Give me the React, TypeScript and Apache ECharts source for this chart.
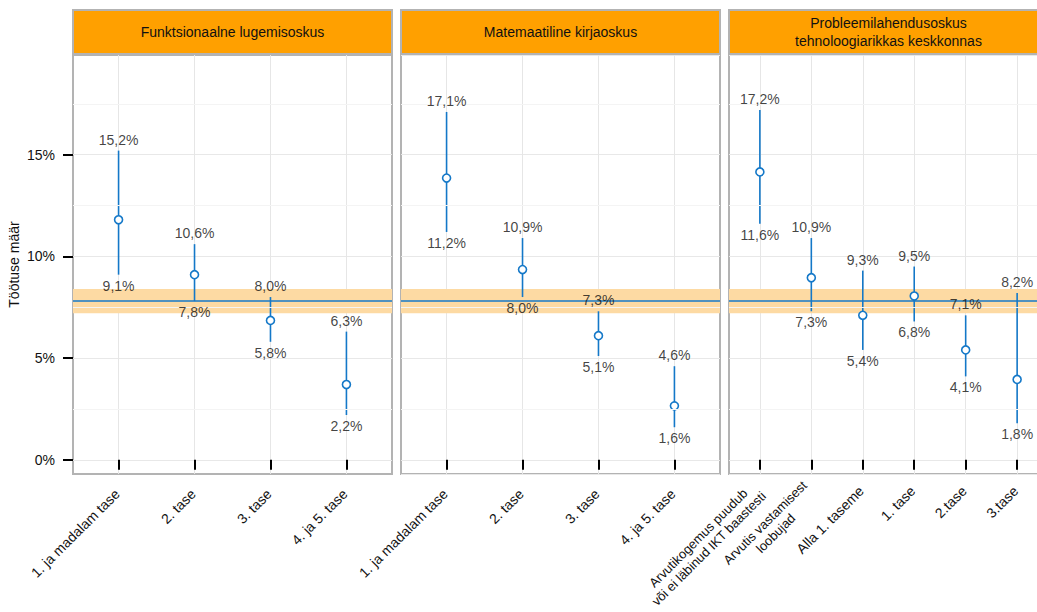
import React, { useEffect, useRef } from 'react';
import * as echarts from 'echarts';

const panelTitles = [
  'Funktsionaalne lugemisoskus',
  'Matemaatiline kirjaoskus',
  'Probleemilahendusoskus\ntehnoloogiarikkas keskkonnas',
];

const cats1 = ['1. ja madalam tase', '2. tase', '3. tase', '4. ja 5. tase'];
const cats2 = ['1. ja madalam tase', '2. tase', '3. tase', '4. ja 5. tase'];
const cats3 = [
  'Arvutikogemus puudub\nvõi ei läbinud IKT baastesti',
  'Arvutis vastamisest\nloobujad',
  'Alla 1. taseme',
  '1. tase',
  '2.tase',
  '3.tase',
];

const est1 = [11.8, 9.1, 6.85, 3.7];
const low1 = [9.1, 7.8, 5.8, 2.2];
const high1 = [15.2, 10.6, 8.0, 6.3];

const est2 = [13.85, 9.35, 6.1, 2.65];
const low2 = [11.2, 8.0, 5.1, 1.6];
const high2 = [17.1, 10.9, 7.3, 4.6];

const est3 = [14.15, 8.95, 7.1, 8.05, 5.4, 3.95];
const low3 = [11.6, 7.3, 5.4, 6.8, 4.1, 1.8];
const high3 = [17.2, 10.9, 9.3, 9.5, 7.1, 8.2];

const refValue = 7.8;
const bandLow = 7.2;
const bandHigh = 8.4;

const yTicks = [0, 5, 10, 15];
const yMinorLines = [2.5, 7.5, 12.5, 17.5];

const panels = [
  { cats: cats1, est: est1, low: low1, high: high1 },
  { cats: cats2, est: est2, low: low2, high: high2 },
  { cats: cats3, est: est3, low: low3, high: high3 },
];

const FONT = 'Liberation Sans, Arial, Helvetica, sans-serif';
const BLUE = '#1478C8';
const BORDER = '#B3B3B3';
const TEXT = '#111';

const pct = (v: number) => v.toFixed(1).replace('.', ',') + '%';

export default function App() {
  const ref = useRef<HTMLDivElement>(null);

  useEffect(() => {
    const chart = echarts.init(ref.current!, null, { renderer: 'svg' });
    const lefts = [73, 401, 729];
    const top = 55;
    const width = 319;
    const height = 419;

    const grids: any[] = [];
    const xAxes: any[] = [];
    const yAxes: any[] = [];
    const series: any[] = [];
    const graphics: any[] = [];

    panels.forEach((p, i) => {
      grids.push({
        left: lefts[i],
        top,
        width,
        height,
        show: true,
        borderColor: BORDER,
        borderWidth: 2,
        backgroundColor: '#fff',
        containLabel: false,
        outerBoundsMode: 'none',
      });
      const n = p.cats.length;
      const tickVals = p.cats.map((_, j) => j + 1);
      xAxes.push({
        type: 'value',
        gridIndex: i,
        min: 0.4,
        max: n + 0.6,
        axisLine: { show: false },
        axisTick: { show: true, customValues: tickVals, length: 10, lineStyle: { color: '#000', width: 2 } },
        axisLabel: {
          show: true,
          customValues: tickVals,
          rotate: 45,
          margin: i === 2 ? 13 : 16,
          padding: [0, 2, 0, 0],
          fontFamily: FONT,
          fontSize: 14,
          color: TEXT,
          lineHeight: 16,
          hideOverlap: false,
          formatter: (v: number) => {
            if (!(Number.isInteger(v) && v >= 1 && v <= n)) return '';
            const lines = p.cats[v - 1].split('\n');
            const key = lines.length > 1 ? 'm' : 'c';
            return lines.map((l) => `{${key}|${l}}`).join('\n');
          },
          rich: {
            c: { align: 'center', fontFamily: FONT, fontSize: 14, color: TEXT, lineHeight: 16 },
            m: { align: 'center', fontFamily: FONT, fontSize: 13, color: TEXT, lineHeight: 15 },
          },
        },
        splitLine: { show: true, lineStyle: { color: '#E6E6E6', width: 1 } },
      });
      yAxes.push({
        type: 'value',
        gridIndex: i,
        min: -0.7,
        max: 19.9,
        axisLine: { show: false },
        axisTick: i === 0 ? { show: true, customValues: yTicks, length: 10, lineStyle: { color: '#000', width: 2 } } : { show: false },
        axisLabel: i === 0
          ? {
              show: true,
              customValues: yTicks,
              margin: 18,
              fontFamily: FONT,
              fontSize: 14,
              color: TEXT,
              formatter: (v: number) => (yTicks.includes(v) ? v + '%' : ''),
            }
          : { show: false },
        splitLine: { show: true, lineStyle: { color: '#E8E8E8', width: 1.2 } },
        name: i === 0 ? 'Töötuse määr' : '',
        nameLocation: 'middle',
        nameGap: 52,
        nameTextStyle: { fontFamily: FONT, fontSize: 14, color: TEXT },
      });

      // minor gridlines
      series.push({
        type: 'line',
        xAxisIndex: i,
        yAxisIndex: i,
        data: [],
        z: 1,
        silent: true,
        markLine: {
          silent: true,
          symbol: ['none', 'none'],
          label: { show: false },
          lineStyle: { color: '#F4F4F4', width: 1, type: 'solid' },
          data: yMinorLines.map((v) => ({ yAxis: v })),
          animation: false,
        },
      });
      // band + reference line
      series.push({
        type: 'line',
        xAxisIndex: i,
        yAxisIndex: i,
        data: [],
        z: 2,
        silent: true,
        markArea: {
          silent: true,
          itemStyle: { color: '#FDDAA3' },
          data: [[{ yAxis: bandLow }, { yAxis: bandHigh }]],
        },
        markLine: {
          silent: true,
          symbol: ['none', 'none'],
          label: { show: false },
          lineStyle: { color: BLUE, width: 1.6, type: 'solid' },
          data: [{ yAxis: refValue }],
          animation: false,
        },
      });
      // error bars
      series.push({
        type: 'custom',
        xAxisIndex: i,
        yAxisIndex: i,
        z: 3,
        silent: true,
        encode: { x: 0, y: [1, 2] },
        data: p.cats.map((_, j) => [j + 1, p.low[j], p.high[j]]),
        renderItem: (params: any, api: any) => {
          const x = api.value(0);
          const p1 = api.coord([x, api.value(1)]);
          const p2 = api.coord([x, api.value(2)]);
          return {
            type: 'line',
            shape: { x1: p1[0], y1: p1[1], x2: p2[0], y2: p2[1] },
            style: { stroke: BLUE, lineWidth: 1.6 },
          };
        },
      });
      // points
      series.push({
        type: 'scatter',
        xAxisIndex: i,
        yAxisIndex: i,
        z: 4,
        silent: true,
        symbol: 'circle',
        symbolSize: 8,
        itemStyle: { color: '#fff', borderColor: BLUE, borderWidth: 1.6, opacity: 1 },
        data: p.est.map((v, j) => [j + 1, v]),
      });
      // top labels
      series.push({
        type: 'scatter',
        xAxisIndex: i,
        yAxisIndex: i,
        z: 5,
        silent: true,
        symbolSize: 0.01,
        itemStyle: { color: 'transparent' },
        label: {
          show: true,
          position: 'top',
          distance: 4,
          fontFamily: FONT,
          fontSize: 14,
          color: TEXT,
          formatter: (d: any) => pct(d.value[1]),
        },
        data: p.high.map((v, j) => [j + 1, v]),
      });
      // bottom labels
      series.push({
        type: 'scatter',
        xAxisIndex: i,
        yAxisIndex: i,
        z: 5,
        silent: true,
        symbolSize: 0.01,
        itemStyle: { color: 'transparent' },
        label: {
          show: true,
          position: 'bottom',
          distance: 4,
          fontFamily: FONT,
          fontSize: 14,
          color: TEXT,
          formatter: (d: any) => pct(d.value[1]),
        },
        data: p.low.map((v, j) => [j + 1, v]),
      });

      // header strip
      graphics.push({
        type: 'rect',
        shape: { x: lefts[i], y: 10, width, height: 44 },
        style: { fill: '#FFA000', stroke: BORDER, lineWidth: 2 },
        z: 10,
      });
      graphics.push({
        type: 'text',
        x: lefts[i] + width / 2,
        y: 32,
        style: {
          text: panelTitles[i],
          fill: TEXT,
          font: `14px ${FONT}`,
          align: 'center',
          verticalAlign: 'middle',
          lineHeight: 18,
        },
        z: 11,
      });
    });

    chart.setOption({
      animation: false,
      backgroundColor: '#fff',
      grid: grids,
      xAxis: xAxes,
      yAxis: yAxes,
      series,
      graphic: graphics,
    });

    return () => chart.dispose();
  }, []);

  return <div ref={ref} style={{ position: 'fixed', left: 0, top: 0, width: 1037, height: 612 }} />;
}
